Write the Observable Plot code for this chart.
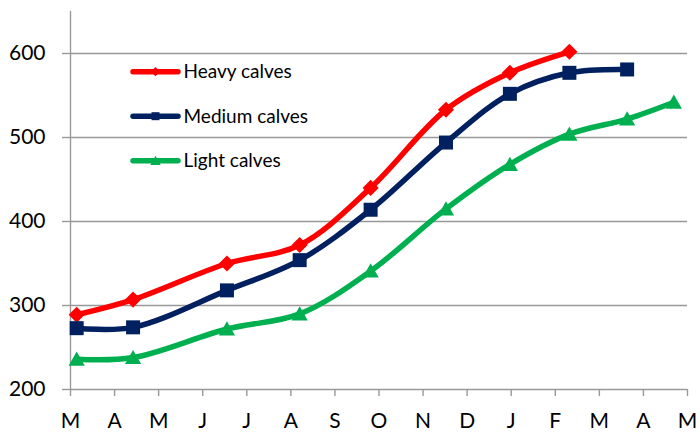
<!DOCTYPE html>
<html>
<head>
<meta charset="utf-8">
<script src="https://cdn.jsdelivr.net/npm/d3@7"></script>
<script src="https://cdn.jsdelivr.net/npm/@observablehq/plot@0.6"></script>
<style>
  html, body { margin: 0; padding: 0; background: #fff; }
  #wrap { position: relative; width: 700px; height: 434px; }
  #legend { position: absolute; left: 0; top: 0; pointer-events: none; }
</style>
</head>
<body>
<div id="wrap"></div>
<script>
// Month tick labels (March .. May of following year)
const months = ["M","A","M","J","J","A","S","O","N","D","J","F","M","A","M"];
const yTicks = [200, 300, 400, 500, 600];
// Weighing dates expressed as months since start of first March
const xPos = [0.14, 1.42, 3.55, 5.2, 6.81, 8.52, 9.97, 11.32, 12.63, 13.69];
// Series values (kg)
const heavy  = [289, 307, 350, 372, 440, 533, 577, 602];
const medium = [273, 274, 318, 354, 414, 494, 552, 577, 581];
const light  = [236, 238, 272, 290, 341, 415, 468, 504, 522, 542];
const seriesNames = ["Heavy calves", "Medium calves", "Light calves"];
const colors = ["#FF0000", "#002060", "#00B050"];

// Excel-like marker shapes
const diamond = { draw(c, size) { const r = Math.sqrt(size / Math.PI) * 1.15;
  c.moveTo(0, -r); c.lineTo(r, 0); c.lineTo(0, r); c.lineTo(-r, 0); c.closePath(); } };
const square = { draw(c, size) { const r = Math.sqrt(size / Math.PI);
  c.rect(-r, -r, 2 * r, 2 * r); } };
const triangle = { draw(c, size) { const r = Math.sqrt(size / Math.PI) * 1.1;
  c.moveTo(0, -r); c.lineTo(r * 1.05, r * 0.85); c.lineTo(-r * 1.05, r * 0.85); c.closePath(); } };
const symbols = [diamond, square, triangle];

const allValues = [heavy, medium, light];
const data = allValues.map((vals, k) => vals.map((v, i) => ({ x: xPos[i], y: v, s: seriesNames[k] })));

const seriesMarks = [];
data.forEach((d, k) => {
  seriesMarks.push(Plot.line(d, { x: "x", y: "y", stroke: colors[k], strokeWidth: 5.5, curve: "catmull-rom", strokeLinejoin: "round" }));
  seriesMarks.push(Plot.dot(d, { x: "x", y: "y", symbol: () => symbols[k], r: 7, fill: colors[k], stroke: "none" }));
});

const chart = Plot.plot({
  width: 700,
  height: 434,
  marginLeft: 70,
  marginRight: 13,
  marginTop: 11,
  marginBottom: 45,
  style: { fontFamily: "Lato", fontSize: "21px", color: "#000", background: "#fff" },
  x: { domain: [0, 14] },
  y: { domain: [200, 650] },
  marks: [
    Plot.gridY(yTicks, { stroke: "#999", strokeOpacity: 1, strokeWidth: 1.4 }),
    Plot.ruleX([0], { stroke: "#999", strokeWidth: 1.4 }),
    Plot.axisY(yTicks, { tickSize: 8, tickPadding: 17, stroke: "#999", strokeWidth: 1.4, fill: "#000", label: null, fontSize: 21 }),
    Plot.axisX(d3.range(months.length), { tickSize: 7, tickPadding: 17, stroke: "#999", strokeWidth: 1.4, fill: "#000", label: null, fontSize: 21, tickFormat: i => months[i] }),
    ...seriesMarks
  ]
});
document.getElementById("wrap").appendChild(chart);

// Legend inside the plot area (upper left)
const leg = d3.select("#wrap").append("svg").attr("id", "legend").attr("width", 700).attr("height", 434);
const legSyms = [d3.symbol().type(diamond).size(Math.PI * 16), d3.symbol().type(square).size(Math.PI * 16), d3.symbol().type(triangle).size(Math.PI * 20)];
seriesNames.forEach((name, k) => {
  const cy = 71.7 + k * 44.5;
  const g = leg.append("g");
  g.append("line").attr("x1", 133).attr("x2", 178).attr("y1", cy).attr("y2", cy)
    .attr("stroke", colors[k]).attr("stroke-width", 5.5).attr("stroke-linecap", "round");
  g.append("path").attr("d", legSyms[k]()).attr("transform", `translate(155.5,${cy})`).attr("fill", colors[k]);
  g.append("text").attr("x", 183.5).attr("y", cy + 6.5).attr("font-family", "Lato").attr("font-size", 19)
    .attr("fill", "#000").text(name);
});
</script>
</body>
</html>
